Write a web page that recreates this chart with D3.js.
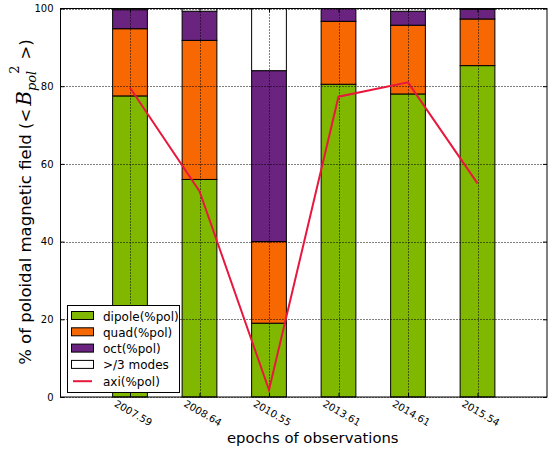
<!DOCTYPE html>
<html lang="en">
<head>
    <meta charset="UTF-8">
    <title>poloidal field</title>
    <script src="https://cdnjs.cloudflare.com/ajax/libs/d3/7.8.5/d3.min.js"></script>
    <style>
        body { margin: 0; background: #fff; }
        svg { font-family: "DejaVu Sans", sans-serif; }
    </style>
</head>
<body>
    <svg width="550" height="450"></svg>
    <script>
        // values
        const epochs = ["2007.59", "2008.64", "2010.55", "2013.61", "2014.61", "2015.54"];
        const dipole = [77.5, 56.0, 19.0, 80.5, 78.0, 85.3];
        const quad   = [17.3, 35.8, 21.0, 16.2, 17.7, 12.0];
        const oct    = [4.9, 7.5, 44.0, 3.3, 3.6, 2.5];
        const axi    = [79.6, 53.0, 1.8, 77.3, 81.0, 55.0];
        const yTicks = [0, 20, 40, 60, 80, 100];

        const series = [
            { name: "dipole(%pol)", color: "#80b800", vals: dipole },
            { name: "quad(%pol)",   color: "#f76702", vals: quad },
            { name: "oct(%pol)",    color: "#6b2380", vals: oct },
            { name: ">/3 modes",    color: "#ffffff", vals: epochs.map((e, i) => 100 - dipole[i] - quad[i] - oct[i]) }
        ];
        const lineColor = "#e8173d";

        const svg = d3.select("svg");
        const m = { left: 60.5, right: 547, top: 8.5, bottom: 397 };

        const x = d3.scaleLinear().domain([0, epochs.length + 1]).range([m.left, m.right]);
        const y = d3.scaleLinear().domain([0, 100]).range([m.bottom, m.top]);
        const barW = x(0.5) - x(0);

        // grid
        const grid = svg.append("g").attr("stroke", "#000").attr("stroke-width", 1).attr("stroke-dasharray", "1,2");
        grid.selectAll(".gy").data(yTicks).enter().append("line")
            .attr("x1", m.left).attr("x2", m.right)
            .attr("y1", d => Math.round(y(d)) + 0.5).attr("y2", d => Math.round(y(d)) + 0.5);

        // stacked bars
        const stackData = epochs.map((e, i) => {
            const o = { epoch: e, idx: i + 1 };
            series.forEach(s => { o[s.name] = s.vals[i]; });
            return o;
        });
        const stacked = d3.stack().keys(series.map(s => s.name))(stackData);

        stacked.forEach((layer, li) => {
            svg.append("g").selectAll("rect").data(layer).enter().append("rect")
                .attr("x", d => x(d.data.idx) - barW / 2)
                .attr("width", barW)
                .attr("y", d => y(d[1]))
                .attr("height", d => y(d[0]) - y(d[1]))
                .attr("fill", series[li].color)
                .attr("stroke", "#000")
                .attr("stroke-width", 1);
        });

        // vertical grid over bars
        grid.raise();
        grid.selectAll(".gx").data(epochs).enter().append("line")
            .attr("x1", (d, i) => Math.round(x(i + 1)) + 0.5).attr("x2", (d, i) => Math.round(x(i + 1)) + 0.5)
            .attr("y1", m.top).attr("y2", m.bottom);

        // axi line
        svg.append("path")
            .datum(axi)
            .attr("fill", "none")
            .attr("stroke", lineColor)
            .attr("stroke-width", 2)
            .attr("d", d3.line().x((d, i) => x(i + 1)).y(d => y(d)));

        // frame
        svg.append("rect")
            .attr("x", m.left).attr("y", m.top)
            .attr("width", m.right - m.left).attr("height", m.bottom - m.top)
            .attr("fill", "none").attr("stroke", "#000").attr("stroke-width", 1);

        // y axis
        const yAxis = svg.append("g").attr("transform", `translate(${m.left},0)`)
            .call(d3.axisLeft(y).tickValues(yTicks).tickSize(-4).tickPadding(7).tickFormat(d3.format("d")));
        yAxis.select(".domain").remove();
        yAxis.selectAll("text").attr("font-size", 10).attr("font-family", "DejaVu Sans").attr("fill", "#000");
        const yAxisR = svg.append("g").attr("transform", `translate(${m.right},0)`)
            .call(d3.axisRight(y).tickValues(yTicks).tickSize(-4).tickFormat(""));
        yAxisR.select(".domain").remove();

        // x axis
        const xAxis = svg.append("g").attr("transform", `translate(0,${m.bottom})`)
            .call(d3.axisBottom(x).tickValues(d3.range(1, epochs.length + 1)).tickSize(-4)
                .tickFormat(d => epochs[d - 1]));
        xAxis.select(".domain").remove();
        xAxis.selectAll("text")
            .attr("font-size", 10).attr("font-family", "DejaVu Sans").attr("fill", "#000")
            .attr("text-anchor", "middle")
            .attr("dy", 0).attr("y", 0)
            .attr("transform", "translate(1,19) rotate(30)");
        const xAxisT = svg.append("g").attr("transform", `translate(0,${m.top})`)
            .call(d3.axisTop(x).tickValues(d3.range(1, epochs.length + 1)).tickSize(-4).tickFormat(""));
        xAxisT.select(".domain").remove();

        // axis labels
        svg.append("text")
            .attr("x", (m.left + m.right) / 2 + 9).attr("y", 443)
            .attr("text-anchor", "middle").attr("font-size", 14.8)
            .text("epochs of observations");

        const yl = svg.append("text")
            .attr("transform", `translate(31,202) rotate(-90)`)
            .attr("text-anchor", "middle").attr("font-size", 16.5);
        yl.append("tspan").text("% of poloidal magnetic field (<");
        yl.append("tspan").attr("font-size", 20).attr("font-family", "DejaVu Serif").attr("font-style", "italic").attr("dx", 3).text("B");
        yl.append("tspan").attr("font-size", 13).attr("font-family", "DejaVu Serif").attr("font-style", "italic").attr("dy", 5).text("pol");
        yl.append("tspan").attr("font-size", 13).attr("font-family", "DejaVu Serif").attr("dy", -17).attr("dx", -3).text("2");
        yl.append("tspan").attr("dy", 12).attr("dx", 6).text(">)");

        // legend
        const lg = svg.append("g").attr("transform", "translate(67,305)");
        lg.append("rect").attr("x", 0.5).attr("y", 0.5).attr("width", 112).attr("height", 87)
            .attr("fill", "#fff").attr("stroke", "#000").attr("stroke-width", 1);
        const items = series.map(s => ({ name: s.name, color: s.color, type: "box" }))
            .concat([{ name: "axi(%pol)", color: lineColor, type: "line" }]);
        const row = lg.selectAll(".item").data(items).enter().append("g")
            .attr("transform", (d, i) => `translate(0,${11 + i * 16.3})`);
        row.filter(d => d.type === "box").append("rect")
            .attr("x", 4.5).attr("y", -4.5).attr("width", 22).attr("height", 8)
            .attr("fill", d => d.color).attr("stroke", "#000").attr("stroke-width", 1);
        row.filter(d => d.type === "line").append("line")
            .attr("x1", 6).attr("x2", 25).attr("y1", 0).attr("y2", 0)
            .attr("stroke", d => d.color).attr("stroke-width", 2);
        row.append("text").attr("x", 36).attr("y", 4.5).attr("font-size", 12).text(d => d.name);
    </script>
</body>
</html>
